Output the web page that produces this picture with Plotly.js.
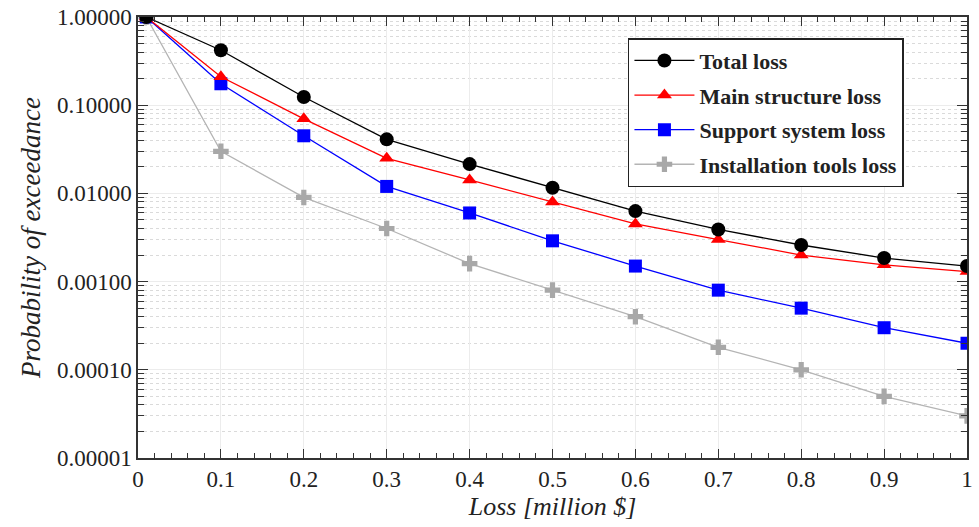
<!DOCTYPE html>
<html><head><meta charset="utf-8">
<script src="https://cdn.plot.ly/plotly-3.0.1.min.js"></script>
<style>
html,body{margin:0;padding:0;background:#fff}
#c svg text{font-family:"Liberation Serif",serif !important;}
</style>
</head><body><div id="c" style="width:979px;height:527px"></div>
<script>
const lossX = [0.01, 0.1, 0.2, 0.3, 0.4, 0.5, 0.6, 0.7, 0.8, 0.9, 1.0];
const totalLoss = [1.0, 0.42, 0.124, 0.041, 0.0215, 0.0116, 0.0063, 0.0039, 0.0026, 0.00185, 0.0015];
const mainStructureLoss = [1.0, 0.21, 0.07, 0.025, 0.0142, 0.008, 0.0045, 0.003, 0.002, 0.00155, 0.0013];
const supportSystemLoss = [1.0, 0.175, 0.045, 0.012, 0.006, 0.0029, 0.0015, 0.0008, 0.0005, 0.0003, 0.0002];
const installationToolsLoss = [1.0, 0.03, 0.009, 0.004, 0.0016, 0.0008, 0.0004, 0.00018, 0.0001, 0.00005, 0.00003];
const seriesNames = ['Total loss', 'Main structure loss', 'Support system loss', 'Installation tools loss'];

function tr(y, name, color, lineColor, symbol, size, rank) {
  return {x: lossX, y: y, name: '<b>' + name + '</b>', type: 'scatter', mode: 'lines+markers',
    legendgroup: 'g' + rank, legendrank: rank,
    line: {color: lineColor, width: 1.3},
    marker: {color: color, symbol: symbol, size: size, line: {width: 0}}};
}
const data = [
  tr(installationToolsLoss, seriesNames[3], '#a8a8a8', '#b4b4b4', 'cross', 13, 4),
  tr(supportSystemLoss, seriesNames[2], '#0000ff', '#0000ff', 'square', 13, 3),
  tr(mainStructureLoss, seriesNames[1], '#ff0000', '#ff0000', 'triangle-up', 13, 2),
  tr(totalLoss, seriesNames[0], '#000000', '#000000', 'circle', 14, 1)
];
const layout = {
  width: 979, height: 527,
  margin: {l: 138, r: 12, t: 17, b: 69},
  paper_bgcolor: '#fff', plot_bgcolor: '#fff',
  font: {family: 'Liberation Serif', size: 20, color: '#222'},
  showlegend: true,
  legend: {x: 0.591, y: 0.952, xanchor: 'left', yanchor: 'top', traceorder: 'grouped',
    bgcolor: '#fff', bordercolor: '#222', borderwidth: 1.5,
    font: {family: 'Liberation Serif', size: 22, color: '#222'},
    itemwidth: 60, tracegroupgap: 3},
  xaxis: {range: [0, 1], dtick: 0.1, tick0: 0, ticks: 'inside', ticklen: 9, tickwidth: 1.3,
    tickcolor: '#333', showline: true, linecolor: '#333', linewidth: 1.5, mirror: 'ticks',
    showgrid: true, gridcolor: '#ececec', gridwidth: 1, zeroline: false,
    tickfont: {family: 'Liberation Serif', size: 23, color: '#222'},
    minor: {dtick: 0.02, ticks: 'inside', ticklen: 5, tickwidth: 1.2, tickcolor: '#333', showgrid: false},
    title: {text: '<i>Loss [million $]</i>', font: {family: 'Liberation Serif', size: 26, color: '#222'}, standoff: 2}},
  yaxis: {type: 'log', range: [-5, 0], dtick: 1, tickformat: '.5f', ticks: 'inside', ticklen: 10, tickwidth: 1.3,
    tickcolor: '#333', showline: true, linecolor: '#333', linewidth: 1.5, mirror: 'ticks',
    showgrid: true, gridcolor: '#ececec', gridwidth: 1, zeroline: false,
    tickfont: {family: 'Liberation Serif', size: 23, color: '#222'},
    minor: {dtick: 'D1', ticks: 'inside', ticklen: 6, tickwidth: 1.2, tickcolor: '#333', showgrid: true,
      gridcolor: '#dadada', griddash: 'dot', gridwidth: 1},
    title: {text: '<i>Probability of exceedance</i>', font: {family: 'Liberation Serif', size: 27, color: '#222'}, standoff: 8}}
};
Plotly.newPlot('c', data, layout, {displayModeBar: false});
</script></body></html>
